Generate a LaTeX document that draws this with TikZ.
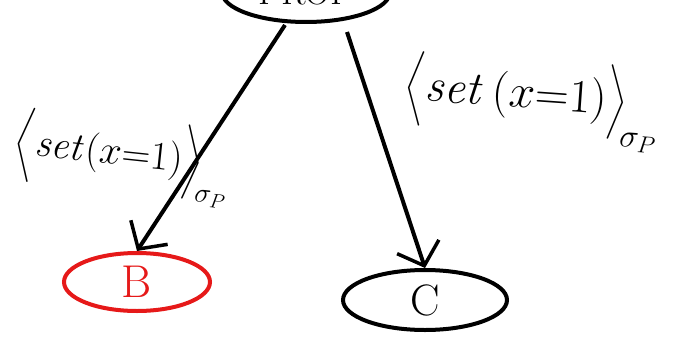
\RequirePackage{fix-cm}
\documentclass[tikz,border=0pt]{standalone}
\usepackage{exscale}
\usetikzlibrary{arrows.meta,shapes.geometric}
\tikzset{
  state/.style={ellipse, draw, line width=4pt, inner sep=0pt},
  edge/.style={line width=4pt, -{Straight Barb[length=20pt,width=44pt,line width=3.5pt]}},
  lbl/.style={inner sep=0pt},
}
\definecolor{penred}{RGB}{230,25,25}
\begin{document}
\begin{tikzpicture}[x=1pt,y=-1pt]
\useasboundingbox (0,0) rectangle (687,337);
\clip (0,0) rectangle (687,337);
\fill[white] (0,0) rectangle (687,337);
\node[state, minimum width=168pt, minimum height=60pt, font=\fontsize{36}{40}\selectfont] (prop) at (306,-8) {PROP};
\node[state, draw=penred, text=penred, minimum width=146pt, minimum height=58pt, font=\fontsize{46}{50}\selectfont] (B) at (137,282) {B};
\node[state, minimum width=164pt, minimum height=60pt, font=\fontsize{44}{48}\selectfont] (C) at (425,300) {C};
\coordinate (s1) at (285,25);
\coordinate (s2) at (347,32);
\draw[edge] (s1) -- (B.north);
\draw[edge] (s2) -- (C.north);
\node[lbl, rotate=-6, font=\fontsize{40}{46}\selectfont] (l1) at (122,158) {$\Bigl\langle \mathit{set}(x{=}1)\Bigr\rangle_{\!\sigma_P}$};
\node[lbl, rotate=-4, font=\fontsize{47}{54}\selectfont] (l2) at (532,100) {$\Bigl\langle \mathit{set}\,(x{=}1)\Bigr\rangle_{\!\sigma_P}$};
\end{tikzpicture}
\end{document}
